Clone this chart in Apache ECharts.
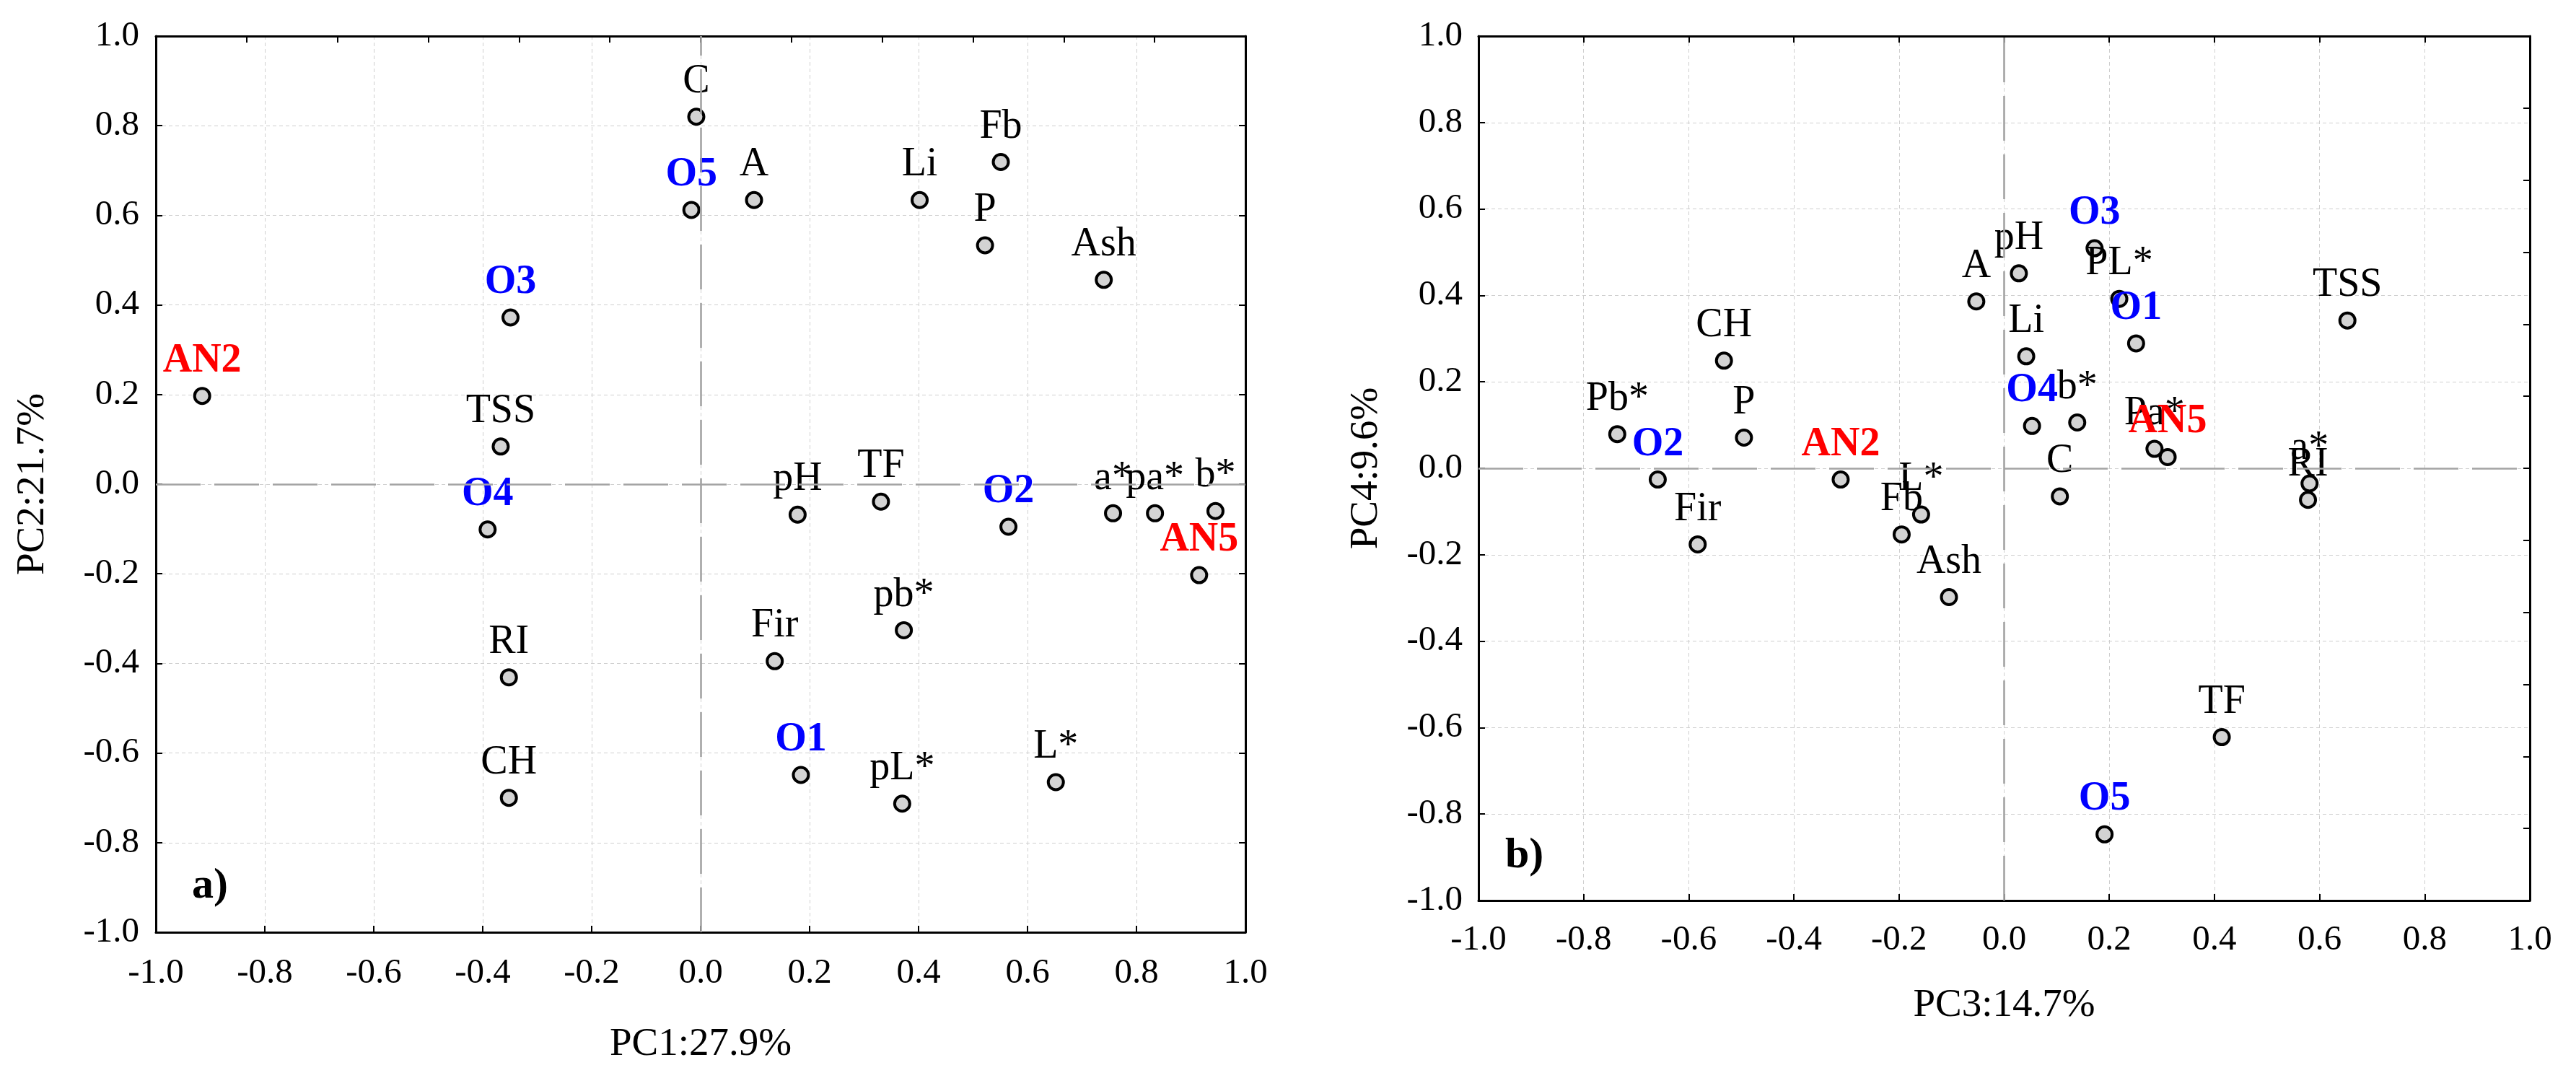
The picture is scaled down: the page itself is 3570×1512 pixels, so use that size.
<!DOCTYPE html>
<html>
<head>
<meta charset="utf-8">
<script src="https://cdn.jsdelivr.net/npm/echarts@6/dist/echarts.min.js"></script>
<style>html,body{margin:0;padding:0;background:#fff}#c{width:3570px;height:1512px}</style>
</head>
<body>
<div id="c"></div>
<script>
// ---- Data: panel a) PC1 vs PC2 ----
const aNames = ['C','A','Li','Fb','P','Ash','TSS','pH','TF','a*','pa*','b*','pb*','Fir','RI','CH','pL*','L*','O5','O3','O4','O2','O1','AN2','AN5'];
const aPC1   = [-0.008,0.098,0.402,0.551,0.522,0.740,-0.367,0.178,0.331,0.757,0.834,0.945,0.373,0.136,-0.352,-0.352,0.370,0.652,-0.017,-0.349,-0.391,0.565,0.184,-0.915,0.915];
const aPC2   = [0.820,0.634,0.634,0.719,0.533,0.456,0.084,-0.068,-0.039,-0.065,-0.065,-0.060,-0.326,-0.395,-0.431,-0.700,-0.713,-0.665,0.612,0.372,-0.101,-0.095,-0.649,0.197,-0.203];
const aGroup = ['v','v','v','v','v','v','v','v','v','v','v','v','v','v','v','v','v','v','o','o','o','o','o','an','an'];

// ---- Data: panel b) PC3 vs PC4 ----
const bNames = ['pH','A','PL*','TSS','Li','CH','b*','Pb*','P','Pa*','a*','RI','C','L*','Fb','Fir','Ash','TF','O3','O1','O4','O2','O5','AN2','AN5'];
const bPC3   = [0.028,-0.053,0.219,0.653,0.042,-0.533,0.139,-0.736,-0.495,0.286,0.581,0.578,0.106,-0.158,-0.195,-0.583,-0.105,0.414,0.172,0.251,0.053,-0.659,0.191,-0.311,0.311];
const bPC4   = [0.451,0.386,0.392,0.342,0.259,0.249,0.106,0.079,0.071,0.045,-0.035,-0.073,-0.065,-0.107,-0.153,-0.176,-0.298,-0.622,0.509,0.289,0.098,-0.026,-0.847,-0.026,0.026];
const bGroup = ['v','v','v','v','v','v','v','v','v','v','v','v','v','v','v','v','v','v','o','o','o','o','o','an','an'];

const axisTitles = ['PC1:27.9%','PC2:21.7%','PC3:14.7%','PC4:9.6%'];
const panelTags = ['a)','b)'];

// ---- Styling ----
const FONT = 'Liberation Serif';
const groupColor = {v:'#000000', o:'#0000ff', an:'#ff0000'};
const groupWeight = {v:'normal', o:'bold', an:'bold'};

function pts(names, xs, ys, groups){
  return names.map((n,i)=>({
    name:n, value:[xs[i], ys[i]],
    label:{color:groupColor[groups[i]], fontWeight:groupWeight[groups[i]]}
  }));
}

const fmt = v => (Math.abs(v) < 1e-9 ? 0 : v).toFixed(1);
const axisLineStyle = {show:true, onZero:false, lineStyle:{color:'#000', width:3}};
const tickStyle = {show:true, inside:true, length:9, lineStyle:{color:'#000', width:2}};
const gridLine = {show:true, lineStyle:{color:'#cfcfcf', width:1, type:[5,4]}};

function mainAxis(gi, pos, name, gap, labelMargin){
  return {
    type:'value', gridIndex:gi, position:pos, min:-1, max:1, interval:0.2,
    name:name, nameLocation:'middle', nameGap:gap,
    nameTextStyle:{fontFamily:FONT, fontSize:55, color:'#000'},
    axisLine:axisLineStyle, axisTick:tickStyle,
    axisLabel:{show:true, margin:labelMargin, fontFamily:FONT, fontSize:49, color:'#000', formatter:fmt},
    splitLine:gridLine
  };
}
function mirrorAxis(gi, pos, interval){
  return {
    type:'value', gridIndex:gi, position:pos, min:-1, max:1, interval:interval,
    axisLine:axisLineStyle, axisTick:tickStyle,
    axisLabel:{show:false}, splitLine:{show:false}
  };
}

const zeroLine = (xi, yi) => ({
  type:'scatter', xAxisIndex:xi, yAxisIndex:yi, data:[], z:1, silent:true,
  markLine:{
    silent:true, symbol:'none', animation:false,
    label:{show:false},
    lineStyle:{color:'#a3a3a3', width:2.6, type:[62,19]},
    data:[{xAxis:0},{yAxis:0}]
  }
});

const pointSeries = (xi, yi, data) => ({
  type:'scatter', xAxisIndex:xi, yAxisIndex:yi, z:3,
  symbol:'circle', symbolSize:21,
  itemStyle:{color:'#d3d3d3', borderColor:'#000', borderWidth:4, opacity:1},
  label:{show:true, position:'top', distance:8, formatter:'{b}', fontFamily:FONT, fontSize:56},
  labelLayout:{hideOverlap:false},
  emphasis:{disabled:true},
  data:data
});

const option = {
  animation:false,
  backgroundColor:'#fff',
  grid:[
    {left:216, top:50, width:1510, height:1242},
    {left:2049, top:50, width:1457, height:1198}
  ],
  xAxis:[
    mainAxis(0,'bottom',axisTitles[0],128,33),
    mirrorAxis(0,'top',1/6),
    mainAxis(1,'bottom',axisTitles[2],118,31),
    mirrorAxis(1,'top',0.2)
  ],
  yAxis:[
    mainAxis(0,'left',axisTitles[1],143,23),
    mirrorAxis(0,'right',0.2),
    mainAxis(1,'left',axisTitles[3],128,22),
    mirrorAxis(1,'right',1/6)
  ],
  series:[
    zeroLine(0,0),
    pointSeries(0,0,pts(aNames,aPC1,aPC2,aGroup)),
    zeroLine(2,2),
    pointSeries(2,2,pts(bNames,bPC3,bPC4,bGroup))
  ],
  graphic:[
    {type:'text', x:266, y:1228, z:10, style:{text:panelTags[0], font:'bold 60px "Liberation Serif"', fill:'#000', verticalAlign:'middle', align:'left'}},
    {type:'text', x:2086, y:1186, z:10, style:{text:panelTags[1], font:'bold 60px "Liberation Serif"', fill:'#000', verticalAlign:'middle', align:'left'}}
  ]
};

const chart = echarts.init(document.getElementById('c'), null, {renderer:'canvas'});
chart.setOption(option);
</script>
</body>
</html>
